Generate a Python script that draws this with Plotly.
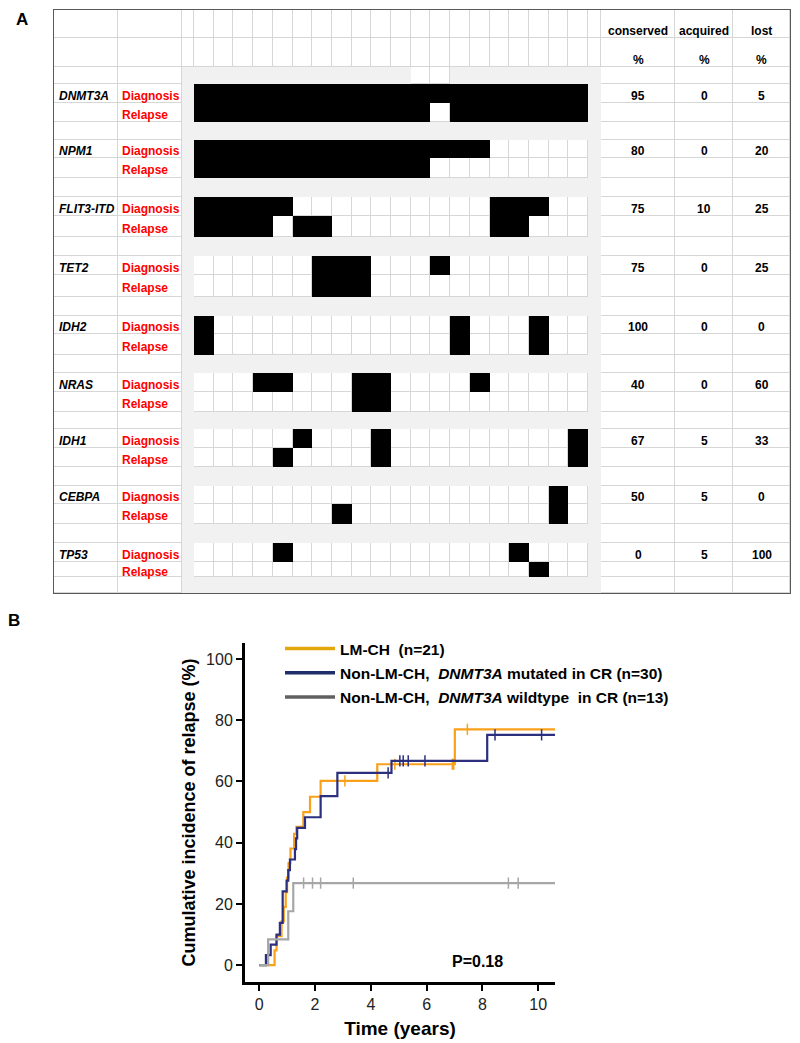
import plotly.graph_objects as go

# ---------------- Panel A data ----------------
genes = ["DNMT3A", "NPM1", "FLIT3-ITD", "TET2", "IDH2", "NRAS", "IDH1", "CEBPA", "TP53"]
patients = [1, 2, 3, 4, 5, 6, 7, 8, 9, 10, 11, 12, 13, 14, 15, 16, 17, 18, 19, 20]
diagnosis_mut = [
    [1, 2, 3, 4, 5, 6, 7, 8, 9, 10, 11, 12, 13, 14, 15, 16, 17, 18, 19, 20],
    [1, 2, 3, 4, 5, 6, 7, 8, 9, 10, 11, 12, 13, 14, 15],
    [1, 2, 3, 4, 5, 16, 17, 18],
    [7, 8, 9, 13],
    [1, 14, 18],
    [4, 5, 9, 10, 15],
    [6, 10, 20],
    [19],
    [5, 17],
]
relapse_mut = [
    [1, 2, 3, 4, 5, 6, 7, 8, 9, 10, 11, 12, 14, 15, 16, 17, 18, 19, 20],
    [1, 2, 3, 4, 5, 6, 7, 8, 9, 10, 11, 12],
    [1, 2, 3, 4, 6, 7, 16, 17],
    [7, 8, 9],
    [1, 14, 18],
    [9, 10],
    [5, 10, 20],
    [8, 19],
    [18],
]
conserved_pct = [95, 80, 75, 75, 100, 40, 67, 50, 0]
acquired_pct = [0, 0, 10, 0, 0, 0, 5, 5, 5]
lost_pct = [5, 20, 25, 25, 0, 60, 33, 0, 100]
stat_headers = ["conserved", "acquired", "lost"]
spacer_white_patients = [12, 13]

# ---------------- Panel B data ----------------
lm_t = [0, 0.55, 0.62, 0.8, 0.88, 0.95, 1.0, 1.05, 1.12, 1.25, 1.33, 1.58, 1.82, 2.2, 4.23, 7.01]
lm_y = [0, 4.8, 9.5, 14.3, 19.0, 23.8, 28.6, 33.3, 38.1, 42.9, 45.2, 50.0, 55.0, 60.2, 65.6, 77.0]
lm_cens = [3.07, 4.86, 6.92, 6.97, 7.46]

mut_t = [0, 0.24, 0.41, 0.62, 0.74, 0.84, 0.98, 1.04, 1.1, 1.28, 1.32, 1.36, 1.64, 2.2, 2.8, 4.74, 8.17]
mut_y = [0, 3.3, 6.7, 10.0, 13.8, 24.1, 27.6, 31.0, 34.5, 37.9, 41.4, 44.8, 48.3, 55.2, 62.8, 66.7, 75.2]
mut_cens = [4.62, 5.04, 5.16, 5.34, 5.94, 8.45, 10.12]

wt_t = [0, 0.32, 1.04, 1.22]
wt_y = [0, 8.4, 17.6, 26.8]
wt_cens = [1.59, 1.91, 2.2, 3.37, 8.93, 9.28]

t_end = 10.6
series_names = [
    "<b>LM-CH  (n=21)</b>",
    "<b>Non-LM-CH,  <i>DNMT3A</i> mutated in CR (n=30)</b>",
    "<b>Non-LM-CH,  <i>DNMT3A</i> wildtype  in CR (n=13)</b>",
]
curve_colors = ["#F9A11B", "#2B2F7E", "#A6A6A6"]
legend_colors = ["#E3A70E", "#1F2D6B", "#606060"]
x_ticks = [0, 2, 4, 6, 8, 10]
y_ticks = [0, 20, 40, 60, 80, 100]

# ---------------- geometry (layout only) ----------------
W, H = 800, 1043
FONT = "Arial, Liberation Sans, sans-serif"
col_edges = [54, 118, 182, 194] + [194 + 19.7 * k for k in range(1, 21)] + [601, 675, 733, 790]
row_edges = [10, 38, 67, 84, 103, 122, 140, 158, 178, 197, 216, 237, 256, 275, 297,
             316, 334, 355, 373, 392, 412, 429, 448, 467, 486, 504, 524, 543, 562, 577, 593]
n_rows = len(row_edges) - 1
n_cols = len(col_edges) - 1


def cell_class(r, c):
    if c in (0, 1) or c >= 24:
        return "W"
    if r < 2:
        return "W"
    if c == 2 or c == 23:
        return "G"
    p = patients[c - 3]
    if r == 2:
        return "W" if p in spacer_white_patients else "G"
    g, k = divmod(r - 3, 3)
    if k == 0:
        return "B" if p in diagnosis_mut[g] else "W"
    if k == 1:
        return "B" if p in relapse_mut[g] else "W"
    return "G"


classes = [[cell_class(r, c) for c in range(n_cols)] for r in range(n_rows)]


def mask(cls):
    return [[1 if classes[r][c] == cls else None for c in range(n_cols)] for r in range(n_rows)]


def solid(color):
    return [[0, color], [1, color]]


fig = go.Figure()
all_cells = [[1] * n_cols for _ in range(n_rows)]
fig.add_trace(go.Heatmap(z=all_cells, x=col_edges, y=row_edges, colorscale=solid("#d6d6d6"),
                         showscale=False, hoverinfo="skip", zmin=0, zmax=1))
fig.add_trace(go.Heatmap(z=mask("W"), x=col_edges, y=row_edges, colorscale=solid("#ffffff"),
                         showscale=False, hoverinfo="skip", xgap=1, ygap=1, zmin=0, zmax=1))
fig.add_trace(go.Heatmap(z=mask("G"), x=col_edges, y=row_edges, colorscale=solid("#f1f1f1"),
                         showscale=False, hoverinfo="skip", zmin=0, zmax=1))
fig.add_trace(go.Heatmap(z=mask("B"), x=col_edges, y=row_edges, colorscale=solid("#000000"),
                         showscale=False, hoverinfo="skip", zmin=0, zmax=1))

ann = []


def rc(r):
    return (row_edges[r] + row_edges[r + 1]) / 2 + 2


def cc(c):
    return (col_edges[c] + col_edges[c + 1]) / 2


for i, h in enumerate(stat_headers):
    ann.append(dict(x=cc(24 + i), y=rc(0) + 5, xref="x", yref="y", text="<b>%s</b>" % h,
                    showarrow=False, font=dict(family=FONT, size=12, color="#000")))
    ann.append(dict(x=cc(24 + i), y=rc(1) + 5, xref="x", yref="y", text="<b>%</b>",
                    showarrow=False, font=dict(family=FONT, size=12, color="#000")))

for g, gene in enumerate(genes):
    rd = 3 + 3 * g
    ann.append(dict(x=57, y=rc(rd), xref="x", yref="y", text="<b><i>%s</i></b>" % gene,
                    xanchor="left", showarrow=False, font=dict(family=FONT, size=12, color="#000")))
    ann.append(dict(x=120, y=rc(rd), xref="x", yref="y", text="<b>Diagnosis</b>",
                    xanchor="left", showarrow=False, font=dict(family=FONT, size=12, color="#ff0000")))
    ann.append(dict(x=120, y=rc(rd + 1), xref="x", yref="y", text="<b>Relapse</b>",
                    xanchor="left", showarrow=False, font=dict(family=FONT, size=12, color="#ff0000")))
    for i, vals in enumerate([conserved_pct, acquired_pct, lost_pct]):
        ann.append(dict(x=cc(24 + i), y=rc(rd), xref="x", yref="y", text="<b>%d</b>" % vals[g],
                        showarrow=False, font=dict(family=FONT, size=12, color="#000")))

ann.append(dict(x=22 / W, y=1 - 20 / H, xref="paper", yref="paper", text="<b>A</b>",
                xanchor="center", yanchor="middle",
                showarrow=False, font=dict(family=FONT, size=17, color="#000")))
ann.append(dict(x=14 / W, y=1 - 620 / H, xref="paper", yref="paper", text="<b>B</b>",
                xanchor="center", yanchor="middle",
                showarrow=False, font=dict(family=FONT, size=17, color="#000")))


# ---------------- Panel B traces ----------------
def step_at(ts, ys, t):
    v = ys[0]
    for tt, yy in zip(ts, ys):
        if tt <= t:
            v = yy
    return v


curves = [(lm_t, lm_y, lm_cens), (mut_t, mut_y, mut_cens), (wt_t, wt_y, wt_cens)]
for i, (ts, ys, cens) in enumerate(curves):
    fig.add_trace(go.Scatter(x=ts + [t_end], y=ys + [ys[-1]], mode="lines", line_shape="hv",
                             line=dict(color=curve_colors[i], width=2.2), showlegend=False,
                             xaxis="x2", yaxis="y2", hoverinfo="skip"))
    fig.add_trace(go.Scatter(x=cens, y=[step_at(ts, ys, t) for t in cens], mode="markers",
                             marker=dict(symbol="line-ns-open", size=8, color=curve_colors[i],
                                         line=dict(color=curve_colors[i], width=1.5)),
                             showlegend=False, xaxis="x2", yaxis="y2", hoverinfo="skip"))
for i, name in enumerate(series_names):
    fig.add_trace(go.Scatter(x=[None], y=[None], mode="lines", name=name,
                             line=dict(color=legend_colors[i], width=3.5),
                             legendgroup="g%d" % i, xaxis="x2", yaxis="y2"))

ann.append(dict(x=7.84, y=1.3, xref="x2", yref="y2", text="<b>P=0.18</b>", showarrow=False,
                font=dict(family=FONT, size=16, color="#000")))

fig.update_layout(
    width=W, height=H, margin=dict(l=0, r=0, t=0, b=0),
    paper_bgcolor="white", plot_bgcolor="white",
    annotations=ann,
    xaxis=dict(domain=[54 / W, 790 / W], range=[54, 790], showgrid=False, zeroline=False,
               showticklabels=False, ticks="", showline=True, mirror=True, linecolor="#595959",
               linewidth=1, fixedrange=True),
    yaxis=dict(domain=[1 - 593 / H, 1 - 10 / H], range=[593, 10], showgrid=False, zeroline=False,
               showticklabels=False, ticks="", showline=True, mirror=True, linecolor="#595959",
               linewidth=1, fixedrange=True),
    xaxis2=dict(domain=[245 / W, 555 / W], range=[-0.51, 10.6], anchor="y2", tickvals=x_ticks,
                ticks="outside", ticklen=6, tickwidth=2, tickcolor="#000", showline=True,
                linewidth=3, linecolor="#000", showgrid=False, zeroline=False,
                tickfont=dict(family=FONT, size=16, color="#222"),
                title=dict(text="<b>Time (years)</b>", font=dict(family=FONT, size=19, color="#000"),
                           standoff=10)),
    yaxis2=dict(domain=[1 - 982 / H, 1 - 643 / H], range=[-5.5, 105.2], anchor="x2", tickvals=y_ticks,
                ticks="outside", ticklen=6, tickwidth=2, tickcolor="#000", showline=True,
                linewidth=3, linecolor="#000", showgrid=False, zeroline=False,
                tickfont=dict(family=FONT, size=16, color="#222"),
                title=dict(text="<b>Cumulative incidence of relapse (%)</b>",
                           font=dict(family=FONT, size=18, color="#000"), standoff=6)),
    legend=dict(x=280 / W, y=1 - 632 / H, xanchor="left", yanchor="top", bgcolor="rgba(0,0,0,0)",
                font=dict(family=FONT, size=15.5, color="#000"), traceorder="grouped",
                tracegroupgap=1, itemwidth=50),
)

fig.write_html("out.html", config={"displayModeBar": False},
               post_script="document.body.style.margin='0px';")
